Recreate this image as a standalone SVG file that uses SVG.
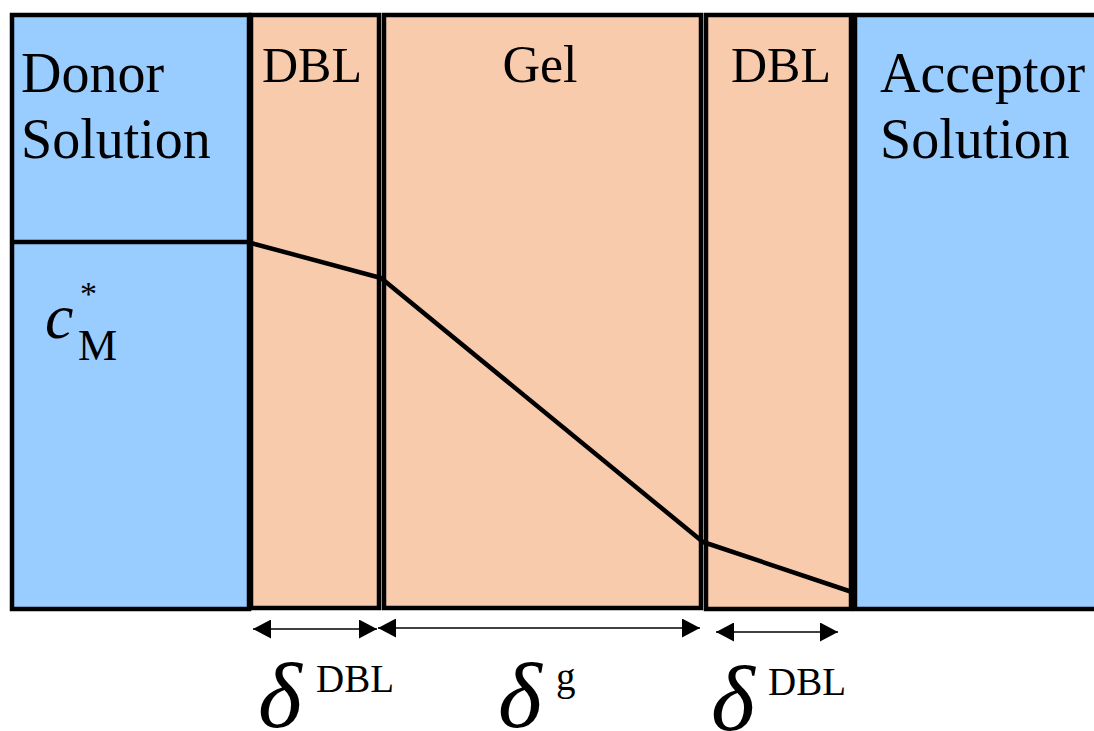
<svg xmlns="http://www.w3.org/2000/svg" width="1094" height="731" viewBox="0 0 1094 731">
<style>
.box{stroke:#000;stroke-width:4.5}
.sol{fill:#99CCFF}
.lay{fill:#F8CBAD}
.t{font-family:"Liberation Serif","Times New Roman",serif;fill:#000}
.dim{stroke:#000;stroke-width:1.6;fill:none}
.d{font-size:94px;font-style:italic}
.s{font-size:39px}
</style>
<defs>
<marker id="ah" markerUnits="userSpaceOnUse" markerWidth="19" markerHeight="19" viewBox="0 0 19 19" refX="18" refY="9.5" orient="auto-start-reverse">
<path d="M0,0 L18,9.5 L0,19 Z" fill="#000"/>
</marker>
</defs>
<rect width="1094" height="731" fill="#fff"/>
<g id="donor">
<rect class="box sol" x="12" y="15" width="237" height="594"/>
<line x1="12" y1="242" x2="249" y2="242" stroke="#000" stroke-width="4.5"/>
<text class="t" x="21" y="92" font-size="56">Donor</text>
<text class="t" x="21" y="158" font-size="56">Solution</text>
<text class="t" x="45" y="338" font-size="64" font-style="italic">c</text>
<text class="t" x="80" y="305" font-size="34">*</text>
<text class="t" x="78" y="360" font-size="44">M</text>
</g>
<g id="dbl1">
<rect class="box lay" x="251" y="15" width="128" height="593"/>
<text class="t" x="312" y="82" font-size="50" text-anchor="middle">DBL</text>
</g>
<g id="gel">
<rect class="box lay" x="384" y="15" width="317" height="593"/>
<text class="t" x="540" y="82" font-size="52" text-anchor="middle">Gel</text>
</g>
<g id="dbl2">
<rect class="box lay" x="706" y="15" width="145" height="594"/>
<text class="t" x="781" y="82" font-size="50" text-anchor="middle">DBL</text>
</g>
<g id="acceptor">
<rect class="box sol" x="855" y="15" width="245" height="594"/>
<text class="t" x="880" y="92" font-size="56">Acceptor</text>
<text class="t" x="880" y="158" font-size="56">Solution</text>
</g>
<g id="connectors">
<polyline points="251,243 381,278 703,542 852,592" fill="none" stroke="#000" stroke-width="4.5" stroke-linejoin="round"/>
<line class="dim" x1="253" y1="629" x2="377" y2="629" marker-start="url(#ah)" marker-end="url(#ah)"/>
<line class="dim" x1="378" y1="628" x2="700" y2="628" marker-start="url(#ah)" marker-end="url(#ah)"/>
<line class="dim" x1="716" y1="632" x2="838" y2="632" marker-start="url(#ah)" marker-end="url(#ah)"/>
</g>
<g id="labels">
<text class="t d" x="258" y="727">δ</text>
<text class="t s" x="316" y="692">DBL</text>
<text class="t d" x="498" y="727">δ</text>
<text class="t s" x="556" y="690">g</text>
<text class="t d" x="711" y="730">δ</text>
<text class="t s" x="768" y="695">DBL</text>
</g>
</svg>
